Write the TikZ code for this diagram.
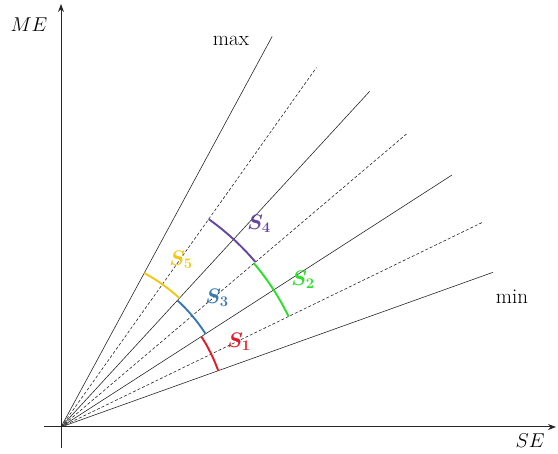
\RequirePackage{fix-cm}
\documentclass[tikz,border=0pt]{standalone}
\usepackage{amsmath,bm}
\usetikzlibrary{arrows.meta,calc}
\definecolor{sred}{RGB}{230,25,40}
\definecolor{sgreen}{RGB}{40,225,40}
\definecolor{sblue}{RGB}{55,120,180}
\definecolor{spurple}{RGB}{100,70,160}
\definecolor{syellow}{RGB}{240,200,20}
\begin{document}
\begin{tikzpicture}[x=1pt,y=1pt,
 axis/.style={line width=1pt, draw=black!85, -{Stealth[length=8pt,width=6pt]}},
 ray/.style={line width=0.6pt, draw=black!85},
 dray/.style={ray, dash pattern=on 3pt off 2pt},
 sarc/.style={line width=1.9pt},
 slab/.style={font=\fontsize{21}{23}\selectfont, inner sep=0pt},
 txt/.style={font=\fontsize{21}{23}\selectfont, inner sep=0pt},
 mtxt/.style={font=\fontsize{20}{22}\selectfont, inner sep=0pt}]
\useasboundingbox (0,0) rectangle (558,454);
\coordinate (O) at (61,27);
\coordinate (xs) at (44,27); \coordinate (xe) at (556,27);
\coordinate (ys) at (61,6); \coordinate (ye) at (61,450);
\draw[axis] (xs) -- (xe);
\draw[axis] (ys) -- (ye);
% rays
\coordinate (r1) at ($(O)+(19.7:459pt)$);
\coordinate (r2) at ($(O)+(25.9:468pt)$);
\coordinate (r3) at ($(O)+(32.8:465pt)$);
\coordinate (r4) at ($(O)+(40.3:455pt)$);
\coordinate (r5) at ($(O)+(47.4:456pt)$);
\coordinate (r6) at ($(O)+(54.6:441pt)$);
\coordinate (r7) at ($(O)+(61.6:444pt)$);
\draw[ray] (O) -- (r1);
\draw[dray] (O) -- (r2);
\draw[ray] (O) -- (r3);
\draw[dray] (O) -- (r4);
\draw[ray] (O) -- (r5);
\draw[dray] (O) -- (r6);
\draw[ray] (O) -- (r7);
% arcs
\draw[sarc, sred] ($(O)+(19.7:167pt)$) arc[start angle=19.7, end angle=32.8, radius=167pt];
\draw[sarc, sblue] ($(O)+(32.8:172pt)$) arc[start angle=32.8, end angle=47.4, radius=172pt];
\draw[sarc, syellow] ($(O)+(47.4:175pt)$) arc[start angle=47.4, end angle=61.6, radius=175pt];
\draw[sarc, sgreen] ($(O)+(25.9:253pt)$) arc[start angle=25.9, end angle=40.3, radius=253pt];
\draw[sarc, spurple] ($(O)+(40.3:255pt)$) arc[start angle=40.3, end angle=54.6, radius=255pt];
% labels
\node[mtxt] (me) at (29,429) {$ME$};
\node[mtxt] (se) at (530,13) {$SE$};
\node[txt] (mx) at (231,413) {max};
\node[txt] (mn) at (512,157) {min};
\node[slab, text=sred] (s1) at (239,112) {$\bm{S_1}$};
\node[slab, text=sgreen] (s2) at (303,174) {$\bm{S_2}$};
\node[slab, text=sblue] (s3) at (217,156) {$\bm{S_3}$};
\node[slab, text=spurple] (s4) at (259,230) {$\bm{S_4}$};
\node[slab, text=syellow] (s5) at (181,194) {$\bm{S_5}$};
\end{tikzpicture}
\end{document}
